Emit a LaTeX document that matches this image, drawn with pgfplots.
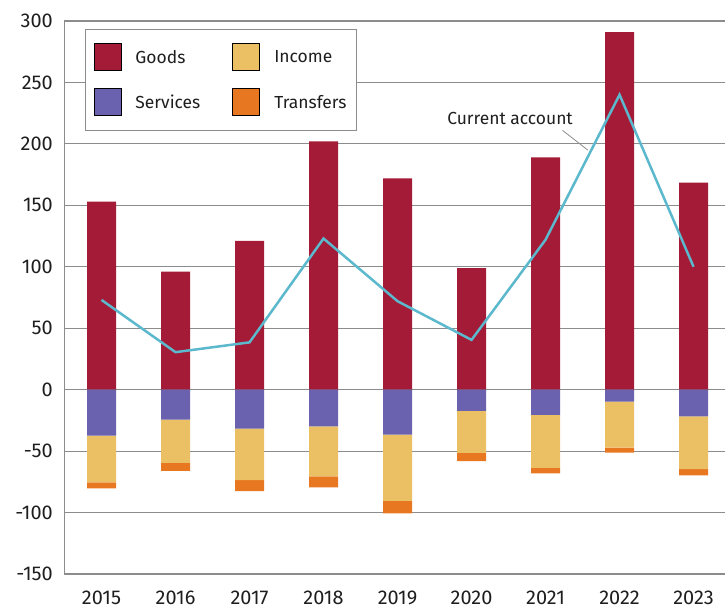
\documentclass[border=0pt]{standalone}
\usepackage{pgfplots}
\pgfplotsset{compat=1.18}
\usepackage{fontspec}
\setmainfont{Fira Sans}
\definecolor{goods}{HTML}{A31B36}
\definecolor{services}{HTML}{6A62AE}
\definecolor{income}{HTML}{EBC065}
\definecolor{transfers}{HTML}{E87722}
\definecolor{ca}{HTML}{5CB8CC}
\definecolor{gridc}{HTML}{8C8C8C}
\definecolor{txt}{HTML}{1E1E1E}
\pgfplotsset{base/.style={
  scale only axis, width=661bp, height=553bp,
  xmin=-0.507, xmax=8.425, ymin=-150, ymax=300,
  xtick={0,...,8}, ytick={-150,-100,...,300},
  major tick length=0pt,
  bar width=29bp,
}}
\begin{document}
\begin{tikzpicture}
\begin{axis}[base, name=main,
  axis line style={draw=none},
  ymajorgrids, grid style={gridc, line width=1.2bp},
  xticklabels={2015,2016,2017,2018,2019,2020,2021,2022,2023},
  tick label style={font=\fontsize{20}{24}\selectfont, text=txt},
  /pgf/number format/assume math mode=true,
  yticklabel style={anchor=east, inner sep=0pt, xshift=-11bp},
  xticklabel style={anchor=north, inner sep=0pt, yshift=-17bp},
  legend columns=2, transpose legend,
  legend cell align=left,
  legend image code/.code={\fill[#1] (0bp,-13.5bp) rectangle (27bp,13.5bp);},
  legend style={at={(rel axis cs:0,1)}, anchor=north west, xshift=21bp, yshift=-8bp,
    draw=gridc, line width=1bp, fill=white,
    font=\fontsize{17.5}{20}\selectfont, text=txt,
    inner xsep=8bp, inner ysep=14bp, row sep=17bp,
    /tikz/every odd column/.append style={column sep=12bp},
    /tikz/every even column/.append style={column sep=30bp}},
]
\addlegendimage{fill=goods}
\addlegendentry{Goods}
\addlegendimage{fill=services}
\addlegendentry{Services}
\addlegendimage{fill=income}
\addlegendentry{Income}
\addlegendimage{fill=transfers}
\addlegendentry{Transfers}
\draw[gridc, line width=1.2bp] (rel axis cs:0,0) -- (rel axis cs:0,1);
\addplot[ybar, bar shift=0pt, fill=goods, draw=none, forget plot] coordinates {
  (0,153) (1,96) (2,121) (3,202) (4,172) (5,99) (6,189) (7,291) (8,168.5)};
\addplot[ca, line width=2.5bp, sharp plot, forget plot] coordinates {
  (0,73) (1,30.5) (2,38.5) (3,123) (4,72) (5,40.5) (6,122) (7,240) (8,100)};
\draw[gridc, line width=0.8bp] (axis cs:6.23,211) -- (axis cs:6.57,195);
\node[font=\fontsize{17.5}{20}\selectfont, text=txt] at (axis cs:5.52,221) {Current account};
\end{axis}
\begin{axis}[base, hide axis, ybar stacked]
\addplot[fill=services, draw=none] coordinates {
  (0,-37.3) (1,-24.4) (2,-31.7) (3,-29.8) (4,-36.5) (5,-17.3) (6,-20.6) (7,-9.8) (8,-21.7)};
\addplot[fill=income, draw=none] coordinates {
  (0,-38.2) (1,-35.2) (2,-41.9) (3,-40.8) (4,-53.9) (5,-34.1) (6,-43.0) (7,-37.3) (8,-43.0)};
\addplot[fill=transfers, draw=none] coordinates {
  (0,-4.9) (1,-6.4) (2,-8.9) (3,-9.0) (4,-10.2) (5,-6.8) (6,-4.6) (7,-4.1) (8,-5.1)};
\end{axis}
\pgfresetboundingbox
\path[use as bounding box] ([xshift=-64bp,yshift=-37bp]main.south west) rectangle ([yshift=21bp]main.north east);
\end{tikzpicture}
\end{document}
